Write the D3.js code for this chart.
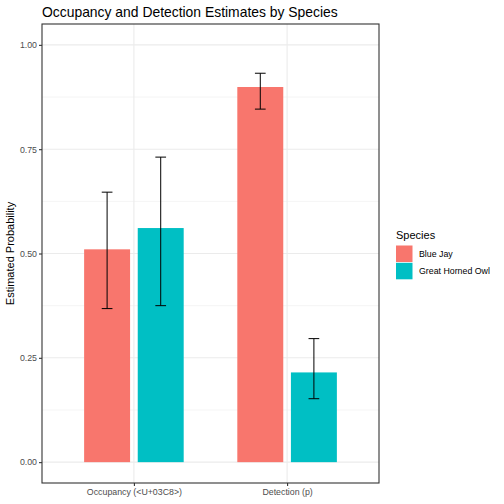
<!DOCTYPE html>
<html>
<head>
<meta charset="utf-8">
<script src="https://cdn.jsdelivr.net/npm/d3@7"></script>
<style>
  body { margin: 0; background: #fff; }
  svg text { font-family: Arial, "Liberation Sans", sans-serif; }
</style>
</head>
<body>
<div id="chart"></div>
<script>
// chart values
const parameters = ["Occupancy (<U+03C8>)", "Detection (p)"];
const species = ["Blue Jay", "Great Horned Owl"];
const estimates = [[0.510, 0.561], [0.899, 0.215]];
const lowerCI = [[0.368, 0.375], [0.846, 0.152]];
const upperCI = [[0.647, 0.731], [0.932, 0.296]];
const yTicks = [0, 0.25, 0.5, 0.75, 1];
const colors = ["#F8766D", "#00BFC4"];

const width = 504, height = 504;
const panel = {left: 42, top: 24, right: 379, bottom: 483};

let svg = d3.select("#chart").append("svg")
    .attr("width", width)
    .attr("height", height);

// discrete axis with ggplot's 0.6 expansion
let xScale = d3.scaleLinear()
    .domain([0.4, parameters.length + 0.6])
    .range([panel.left, panel.right]);
let yScale = d3.scaleLinear()
    .domain([-0.05, 1.05])
    .range([panel.bottom, panel.top]);

const dodge = 0.7, barWidth = 0.6 / species.length, capWidth = 0.07;
let offset = (j) => (j - (species.length - 1) / 2) * dodge / species.length;

// grid
let grid = svg.append("g");
let minor = [];
for (let i = 0; i < yTicks.length - 1; i++) minor.push((yTicks[i] + yTicks[i + 1]) / 2);
grid.selectAll(".minor").data(minor).enter().append("line")
    .attr("x1", panel.left).attr("x2", panel.right)
    .attr("y1", d => yScale(d)).attr("y2", d => yScale(d))
    .attr("stroke", "#ebebeb").attr("stroke-width", 0.55);
grid.selectAll(".major").data(yTicks).enter().append("line")
    .attr("x1", panel.left).attr("x2", panel.right)
    .attr("y1", d => yScale(d)).attr("y2", d => yScale(d))
    .attr("stroke", "#ebebeb").attr("stroke-width", 1.1);
grid.selectAll(".vmajor").data(parameters).enter().append("line")
    .attr("x1", (d, i) => xScale(i + 1)).attr("x2", (d, i) => xScale(i + 1))
    .attr("y1", panel.top).attr("y2", panel.bottom)
    .attr("stroke", "#ebebeb").attr("stroke-width", 1.1);

// bars
let rows = [];
parameters.forEach((p, i) => species.forEach((s, j) => {
    rows.push({i: i, j: j, est: estimates[i][j], lo: lowerCI[i][j], hi: upperCI[i][j]});
}));

svg.append("g").selectAll("rect").data(rows).enter().append("rect")
    .attr("x", d => xScale(d.i + 1 + offset(d.j) - barWidth / 2))
    .attr("width", d => xScale(barWidth) - xScale(0))
    .attr("y", d => yScale(d.est))
    .attr("height", d => yScale(0) - yScale(d.est))
    .attr("fill", d => colors[d.j]);

// error bars
let eb = svg.append("g").attr("stroke", "#000").attr("stroke-width", 1).attr("fill", "none");
rows.forEach(d => {
    let cx = d.i + 1 + offset(d.j);
    eb.append("line")
        .attr("x1", xScale(cx)).attr("x2", xScale(cx))
        .attr("y1", yScale(d.lo)).attr("y2", yScale(d.hi));
    [d.lo, d.hi].forEach(v => {
        eb.append("line")
            .attr("x1", xScale(cx - capWidth / 2)).attr("x2", xScale(cx + capWidth / 2))
            .attr("y1", yScale(v)).attr("y2", yScale(v));
    });
});

// panel border
svg.append("rect")
    .attr("x", panel.left).attr("y", panel.top)
    .attr("width", panel.right - panel.left).attr("height", panel.bottom - panel.top)
    .attr("fill", "none").attr("stroke", "#333333").attr("stroke-width", 1.1);

// axes
let yAxis = d3.axisLeft(yScale).tickValues(yTicks).tickFormat(d3.format(".2f")).tickSize(3).tickPadding(2);
let yg = svg.append("g").attr("transform", "translate(" + panel.left + ",0)").call(yAxis);
yg.select(".domain").remove();
yg.selectAll(".tick line").attr("stroke", "#333333").attr("stroke-width", 1.1);
yg.selectAll(".tick text").attr("fill", "#4d4d4d").attr("font-size", "8.8px");

let xAxis = d3.axisBottom(xScale).tickValues(parameters.map((p, i) => i + 1))
    .tickFormat((d) => parameters[d - 1]).tickSize(3).tickPadding(3);
let xg = svg.append("g").attr("transform", "translate(0," + panel.bottom + ")").call(xAxis);
xg.select(".domain").remove();
xg.selectAll(".tick line").attr("stroke", "#333333").attr("stroke-width", 1.1);
xg.selectAll(".tick text").attr("fill", "#4d4d4d").attr("font-size", "8.8px");

// titles
svg.append("text")
    .attr("x", panel.left).attr("y", 17)
    .attr("font-size", "13.9px").attr("fill", "#000")
    .text("Occupancy and Detection Estimates by Species");

svg.append("text")
    .attr("transform", "translate(14," + ((panel.top + panel.bottom) / 2) + ") rotate(-90)")
    .attr("text-anchor", "middle")
    .attr("font-size", "11px").attr("fill", "#000")
    .text("Estimated Probability");

// legend
let legend = svg.append("g").attr("transform", "translate(396,229)");
legend.append("text").attr("x", 0).attr("y", 10)
    .attr("font-size", "11px").attr("fill", "#000").text("Species");
let items = legend.selectAll(".item").data(species).enter().append("g")
    .attr("transform", (d, i) => "translate(0," + (16.5 + i * 17.3) + ")");
items.append("rect")
    .attr("width", 16.5).attr("height", 16.5)
    .attr("fill", (d, i) => colors[i]);
items.append("text")
    .attr("x", 23).attr("y", 8.3).attr("dy", "0.35em")
    .attr("font-size", "8.8px").attr("fill", "#000")
    .text(d => d);
</script>
</body>
</html>
